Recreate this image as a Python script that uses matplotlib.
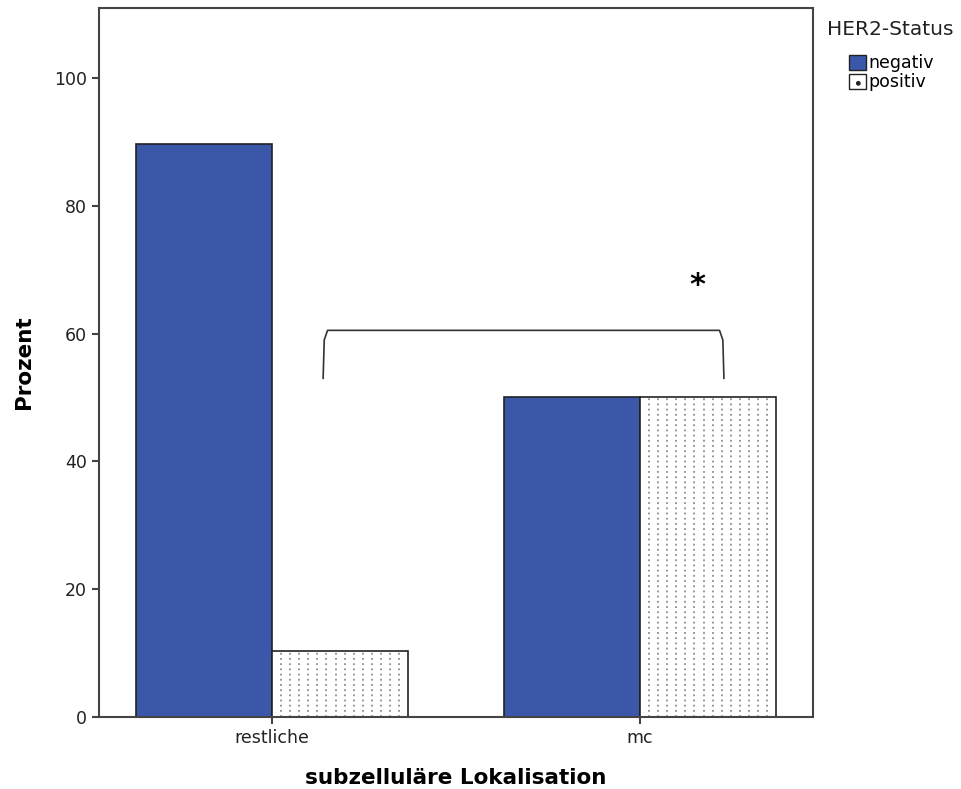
import matplotlib
matplotlib.use("Agg")
import matplotlib.pyplot as plt
import numpy as np
from matplotlib.patches import Patch

plt.rcParams['font.family'] = ['DejaVu Sans']

categories = ["restliche", "mc"]
series_names = ["negativ", "positiv"]
negativ = [89.7, 50.0]
positiv = [10.3, 50.0]
yticks = [0, 20, 40, 60, 80, 100]

blue = "#3A57A9"
edge = "#222222"

fig = plt.figure(figsize=(9.61, 7.89), dpi=100)
ax = fig.add_axes([0.103, 0.0913, 0.743, 0.899])

x = np.arange(len(categories))
w = 0.37
b1 = ax.bar(x - w / 2, negativ, w, color=blue, edgecolor=edge, linewidth=1.2, zorder=2)
b2 = ax.bar(x + w / 2, positiv, w, color="white", edgecolor=edge, linewidth=1.2, zorder=2)

# dotted vertical fill pattern for the "positiv" bars
for p in b2:
    x0, wd, h = p.get_x(), p.get_width(), p.get_height()
    xs = np.linspace(x0, x0 + wd, 16)[1:-1]
    ax.vlines(xs, 0, h, colors="#7a7a7a", linestyles=(0, (1.2, 2.2)), linewidth=1.1, zorder=2.5)

ax.set_xlim(-0.47, 1.47)
ax.set_ylim(0, 111)
ax.set_xticks(x)
ax.set_xticklabels(categories, fontsize=12.5, color="#222222")
ax.set_yticks(yticks)
ax.set_yticklabels([str(t) for t in yticks], fontsize=12.5, color="#222222")
ax.tick_params(direction="out", length=5, width=1.5, color="#444444")
for s in ax.spines.values():
    s.set_color("#444444")
    s.set_linewidth(1.5)

ax.set_ylabel("Prozent", fontsize=15.5, fontweight="bold")
ax.yaxis.set_label_coords(-0.091, 0.5)
ax.set_xlabel("subzelluläre Lokalisation", fontsize=15.5, fontweight="bold", labelpad=15.5)

# significance bracket
bx0, bx1, by_top, by_low = 0.139, 1.228, 60.5, 53.0
ax.plot([bx0, bx0 + 0.003, bx0 + 0.012, bx1 - 0.012, bx1 - 0.003, bx1],
        [by_low, by_top - 1.5, by_top, by_top, by_top - 1.5, by_low],
        color="#333333", linewidth=1.2, zorder=3)
ax.text(1.155, 67.5, "*", fontsize=22, fontweight="bold", ha="center", va="center")

# legend: title on its own, entries indented below it
fig.text(0.861, 0.962, "HER2-Status", fontsize=14.5, ha="left", va="center", color="#222222")
handles = [Patch(facecolor=blue, edgecolor=edge, label="negativ"),
           Patch(facecolor="white", edgecolor=edge, hatch=".", label="positiv")]
leg = fig.legend(handles=handles, loc="upper left",
                 bbox_to_anchor=(0.883, 0.931), frameon=False, fontsize=12.5,
                 handlelength=1.0, handleheight=1.0,
                 handletextpad=0.15, labelspacing=0.05, borderpad=0.0,
                 borderaxespad=0.0)

fig.savefig("out.png", dpi=100)
